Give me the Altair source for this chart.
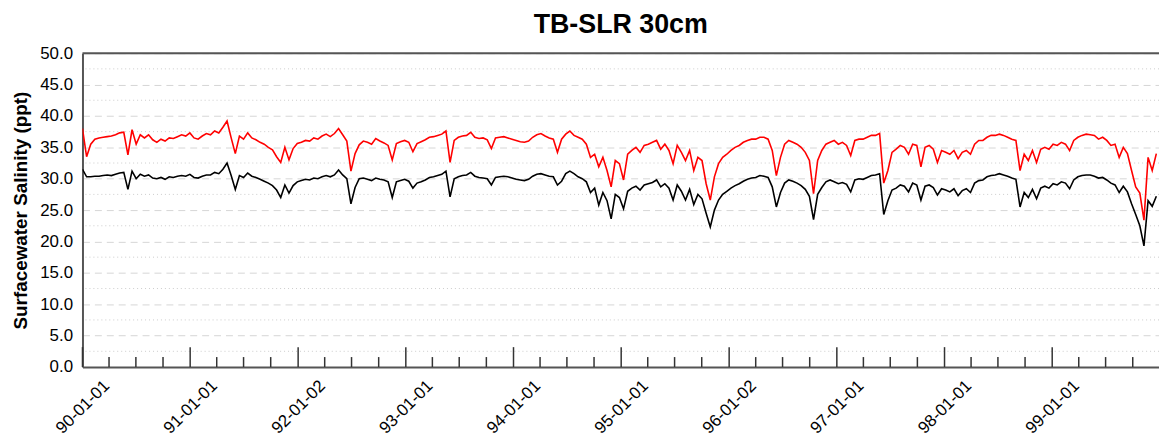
import altair as alt
import pandas as pd

TITLE = "TB-SLR 30cm"
Y_TITLE = "Surfacewater Salinity (ppt)"
SERIES = ["SLR 30cm", "Baseline"]
COLORS = ["#ff0000", "#000000"]
START = "1990-01-01"
STEP_DAYS = 14

# red series (SLR 30cm), one reading every 14 days from 1990-01-01
red_vals = [
    38.0, 33.5, 35.5, 36.3, 36.5, 36.6, 36.7, 36.8, 37.0, 37.3,
    37.4, 33.8, 37.8, 35.5, 37.0, 36.5, 37.0, 36.2, 35.8, 36.3,
    36.0, 36.5, 36.4, 36.7, 37.0, 36.8, 37.3, 36.5, 36.3, 36.8,
    37.2, 37.0, 37.6, 37.3, 38.2, 39.2, 36.5, 34.0, 36.8, 36.3,
    37.3, 36.5, 36.2, 35.8, 35.5, 35.0, 34.6, 33.5, 32.6, 35.0,
    33.0, 34.8, 35.6, 35.8, 36.1, 36.0, 36.5, 36.3, 36.8, 37.1,
    36.7, 37.2, 38.0, 37.0, 36.0, 31.2, 34.0, 35.4, 36.0, 35.8,
    35.5, 36.4, 36.0, 35.7, 35.3, 33.0, 35.6, 35.9, 36.1, 35.8,
    34.3, 35.6, 35.9, 36.2, 36.6, 36.7, 36.9, 37.1, 37.6, 32.6,
    36.1, 36.6, 36.8, 36.9, 37.4, 36.6, 36.4, 36.5, 36.2, 34.8,
    36.5, 36.6, 36.7, 36.5, 36.3, 36.1, 35.9, 35.8, 36.0, 36.6,
    37.0, 37.2, 36.8, 36.5, 36.3, 34.2, 36.3, 37.1, 37.6, 36.9,
    36.6, 36.3, 35.5, 33.4, 33.9, 31.9, 33.4, 31.3, 28.7, 32.9,
    32.4, 29.8, 33.9, 34.5, 35.0, 34.2, 35.3, 35.5, 35.8, 36.1,
    34.7, 35.5, 34.5, 32.4, 35.3, 34.2, 32.9, 34.5, 31.3, 33.4,
    32.9, 29.2, 26.6, 30.3, 32.4, 33.4, 33.9, 34.5, 35.0, 35.3,
    35.8, 36.1, 36.3, 36.3, 36.6, 36.6, 36.3, 34.5, 30.5, 33.4,
    35.5, 36.1, 35.8, 35.5, 35.0, 34.2, 32.9, 27.6, 32.9, 34.5,
    35.5, 35.8, 36.1, 35.5, 35.8, 35.3, 33.7, 36.1, 36.3, 36.3,
    36.6, 36.9, 36.9, 37.2, 29.3, 31.3, 34.2, 34.7, 35.3, 35.0,
    33.9, 35.5, 35.3, 31.9, 35.0, 35.3, 34.7, 32.6, 34.5, 34.2,
    33.9, 34.5, 33.2, 34.2, 34.5, 33.9, 35.5, 36.1, 36.1, 36.6,
    36.9, 36.9, 37.1, 36.9, 36.6, 36.3, 36.1, 31.3, 33.9, 32.9,
    34.5, 32.6, 34.7, 35.0, 34.7, 35.5, 35.3, 35.8, 35.5, 34.5,
    36.1, 36.6, 36.9, 37.1, 37.0, 36.9, 36.3, 36.6, 36.1, 35.3,
    35.5, 33.4, 35.0, 34.0, 31.3, 28.7, 27.7, 23.4, 33.4, 31.3,
    34.0,
]

# black series (baseline)
black_vals = [
    31.5, 30.3, 30.3, 30.4, 30.4, 30.5, 30.6, 30.5, 30.7, 30.9,
    31.0, 28.3, 31.2, 30.0, 30.7, 30.4, 30.6, 30.1, 30.0, 30.2,
    29.9, 30.3, 30.2, 30.4, 30.5, 30.4, 30.7, 30.2, 30.1, 30.4,
    30.6, 30.6, 31.0, 30.8, 31.5, 32.5, 30.5, 28.3, 30.5, 30.2,
    30.9, 30.4, 30.2, 29.9, 29.6, 29.3, 28.9, 28.2, 27.0, 29.0,
    27.7, 28.9, 29.5, 29.7, 29.9, 29.8, 30.1, 30.0, 30.3, 30.5,
    30.3, 30.6, 31.4, 30.6, 30.0, 26.0, 28.6, 30.0, 30.1, 29.9,
    29.7, 30.1, 29.9, 29.8, 29.5, 27.0, 29.5, 29.7, 29.9, 29.6,
    28.5, 29.3, 29.5, 29.8, 30.2, 30.3, 30.5, 30.7, 31.2, 27.1,
    30.0, 30.3, 30.5, 30.6, 31.0, 30.4, 30.2, 30.1, 30.0, 29.0,
    30.2, 30.3, 30.4, 30.3, 30.1, 29.9, 29.8, 29.7, 29.9, 30.4,
    30.7, 30.8, 30.6, 30.4, 30.3, 29.0, 29.6, 30.8, 31.2, 30.8,
    30.3, 30.0, 29.5, 27.8, 28.5, 25.8, 27.8, 26.5, 23.6, 27.5,
    27.0, 25.2, 28.0, 28.5, 28.8, 28.2, 29.0, 29.2, 29.4, 29.8,
    28.7, 29.2, 28.5, 26.6, 29.0, 28.0, 26.6, 28.3, 25.9, 27.5,
    26.8, 24.5, 22.3, 25.0, 26.6, 27.5, 28.0, 28.5, 28.9, 29.2,
    29.6, 29.9, 30.1, 30.2, 30.5, 30.4, 30.2, 28.7, 25.5, 27.8,
    29.3, 29.8, 29.6, 29.3, 28.9, 28.3, 27.2, 23.5, 27.5, 28.6,
    29.5, 29.8, 29.5, 29.2, 29.4, 29.1, 27.9, 29.8, 30.0, 29.9,
    30.2, 30.5, 30.6, 30.8, 24.3, 26.5, 28.2, 28.5, 29.0, 28.8,
    27.9, 29.3, 29.0, 26.6, 28.8, 29.0, 28.6, 27.4, 28.4, 28.2,
    27.9, 28.4, 27.3, 28.1, 28.4, 27.8, 29.3, 29.7, 29.8, 30.3,
    30.5, 30.6, 30.8, 30.6, 30.4, 30.1, 29.9, 25.5, 27.8, 27.0,
    28.3, 26.8, 28.5, 28.8, 28.5, 29.2, 29.0, 29.5, 29.3, 28.4,
    29.8, 30.3, 30.5, 30.6, 30.6, 30.4, 30.1, 30.2, 29.8, 29.3,
    29.0, 27.8, 28.8, 27.9, 26.0, 24.3, 22.5, 19.3, 26.5, 25.6,
    27.2,
]

# x axis tick labels (major) and quarterly minor ticks
major_ticks = [
    (1990, 1, 1), (1991, 1, 1), (1992, 1, 2), (1993, 1, 1), (1994, 1, 1),
    (1995, 1, 1), (1996, 1, 2), (1997, 1, 1), (1998, 1, 1), (1999, 1, 1),
]
minor_months = [4, 7, 10]
y_ticks = [0, 5, 10, 15, 20, 25, 30, 35, 40, 45, 50]
y_minor = [2.5, 7.5, 12.5, 17.5, 22.5, 27.5, 32.5, 37.5, 42.5, 47.5]
X_END = (1999, 12, 29)

W, H = 1084, 316
FONT = "Liberation Sans"


def series_frame(name, vals):
    d = pd.Timestamp(START) + pd.to_timedelta([i * STEP_DAYS for i in range(len(vals))], unit="D")
    return pd.DataFrame({"date": d.strftime("%Y-%m-%d"), "value": vals, "series": name})


df = pd.concat([series_frame(SERIES[0], red_vals), series_frame(SERIES[1], black_vals)],
               ignore_index=True)

major_df = pd.DataFrame({"date": [f"{y:04d}-{m:02d}-{d:02d}" for y, m, d in major_ticks]})
minor_df = pd.DataFrame({"date": [f"{y:04d}-{m:02d}-01" for y, _, _ in major_ticks for m in minor_months]})
ygrid_minor_df = pd.DataFrame({"value": y_minor})
top_df = pd.DataFrame({"value": [y_ticks[-1]]})
title_df = pd.DataFrame({"t": [TITLE]})

xscale = alt.Scale(type="utc",
                   domain=[alt.DateTime(year=1990, month=1, date=1, utc=True),
                           alt.DateTime(year=X_END[0], month=X_END[1], date=X_END[2], utc=True)])
yscale = alt.Scale(domain=[0, 50], nice=False, zero=True)

xaxis = alt.Axis(
    values=[alt.DateTime(year=y, month=m, date=d, utc=True) for y, m, d in major_ticks],
    labelExpr="utcFormat(datum.value, '%y-%m-%d')", title=None,
    labelAngle=315, labelAlign="center", labelBaseline="middle", labelPadding=40,
    labelFont=FONT, labelFontSize=17, labelColor="#000", labelFlush=False,
    labelOverlap=False, ticks=False, tickSize=0, grid=False,
    domainColor="#555555", domainWidth=2,
)
yaxis = alt.Axis(
    values=y_ticks, format=".1f", title=Y_TITLE,
    titleFont=FONT, titleFontSize=19, titleFontWeight="bold", titleColor="#000",
    titleAngle=270, titleX=-56, titleY=H / 2, titleAlign="center", titleBaseline="alphabetic",
    labelFont=FONT, labelFontSize=17, labelColor="#000", labelPadding=10,
    ticks=False, tickSize=0, domainColor="#555555", domainWidth=2,
    grid=True, gridColor="#d6d6d6", gridDash=[7, 5], gridWidth=1,
)

minor_grid = alt.Chart(ygrid_minor_df).mark_rule(color="#cccccc", strokeDash=[1, 3], strokeWidth=1).encode(
    y=alt.Y("value:Q", scale=yscale, axis=yaxis)
)

lines = alt.Chart(df).mark_line(clip=True, strokeWidth=1.6).encode(
    x=alt.X("date:T", scale=xscale, axis=xaxis),
    y=alt.Y("value:Q", scale=yscale, axis=yaxis),
    color=alt.Color("series:N", scale=alt.Scale(domain=SERIES, range=COLORS), legend=None),
)

top_border = alt.Chart(top_df).mark_rule(color="#555555", strokeWidth=2).encode(
    y=alt.Y("value:Q", scale=yscale, axis=yaxis)
)

major_marks = alt.Chart(major_df).mark_rule(color="#333333", strokeWidth=1.5).encode(
    x=alt.X("date:T", scale=xscale, axis=xaxis), y=alt.value(H), y2=alt.value(H - 20)
)
minor_marks = alt.Chart(minor_df).mark_rule(color="#333333", strokeWidth=1.5).encode(
    x=alt.X("date:T", scale=xscale, axis=xaxis), y=alt.value(H), y2=alt.value(H - 10)
)

title_mark = alt.Chart(title_df).mark_text(
    font=FONT, fontSize=27, fontWeight="bold", color="#000", align="center", baseline="alphabetic"
).encode(x=alt.value(W / 2), y=alt.value(-20), text="t:N")

chart = alt.layer(minor_grid, lines, top_border, major_marks, minor_marks, title_mark).properties(
    width=W, height=H,
    autosize=alt.AutoSizeParams(type="none"),
    padding={"left": 75, "top": 44, "right": 0, "bottom": 70},
).configure_view(stroke=None).configure(font=FONT)

chart.save("out.html", embed_options={"renderer": "svg", "actions": False})
